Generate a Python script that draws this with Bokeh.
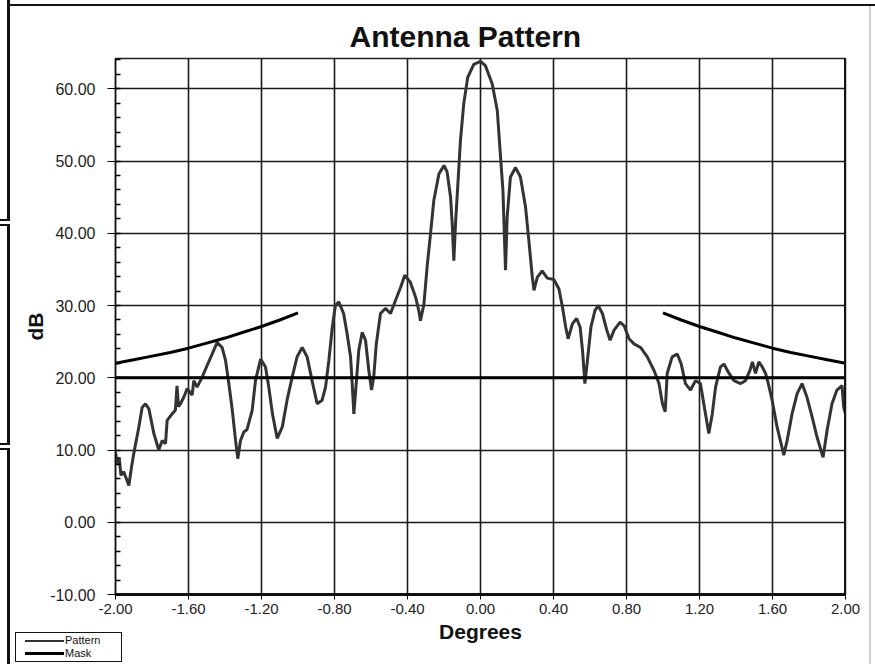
from bokeh.plotting import figure
from bokeh.layouts import column
from bokeh.models import (Range1d, FixedTicker, PrintfTickFormatter, Span, Div,
                          ColumnDataSource)
from bokeh.embed import file_html
from bokeh.resources import INLINE

# ---------------- data ----------------
pattern_angle = [
    -2.000, -1.990, -1.980, -1.970, -1.955, -1.940, -1.927, -1.910, -1.900, -1.872,
    -1.854, -1.836, -1.817, -1.790, -1.763, -1.744, -1.726, -1.717, -1.690, -1.672,
    -1.663, -1.655, -1.644, -1.626, -1.607, -1.580, -1.571, -1.553, -1.525, -1.498,
    -1.470, -1.443, -1.416, -1.397, -1.379, -1.360, -1.342, -1.330, -1.315, -1.297,
    -1.280, -1.251, -1.233, -1.205, -1.178, -1.160, -1.140, -1.114, -1.086, -1.060,
    -1.032, -1.005, -0.977, -0.950, -0.923, -0.895, -0.868, -0.849, -0.831, -0.812,
    -0.795, -0.777, -0.750, -0.731, -0.712, -0.703, -0.694, -0.681, -0.667, -0.648,
    -0.630, -0.612, -0.597, -0.585, -0.571, -0.548, -0.521, -0.493, -0.466, -0.438,
    -0.415, -0.384, -0.356, -0.338, -0.329, -0.310, -0.292, -0.274, -0.256, -0.228,
    -0.200, -0.183, -0.164, -0.155, -0.146, -0.137, -0.124, -0.110, -0.092, -0.070,
    -0.037, 0.000, 0.027, 0.064, 0.092, 0.110, 0.123, 0.137, 0.146, 0.164,
    0.192, 0.219, 0.247, 0.265, 0.284, 0.293, 0.311, 0.338, 0.366, 0.402,
    0.430, 0.449, 0.467, 0.480, 0.504, 0.527, 0.546, 0.559, 0.572, 0.586,
    0.605, 0.627, 0.645, 0.668, 0.692, 0.710, 0.732, 0.765, 0.787, 0.814,
    0.841, 0.877, 0.914, 0.951, 0.978, 0.997, 1.012, 1.023, 1.050, 1.078,
    1.100, 1.123, 1.151, 1.178, 1.205, 1.227, 1.251, 1.270, 1.288, 1.315,
    1.334, 1.362, 1.389, 1.425, 1.452, 1.476, 1.490, 1.507, 1.525, 1.544,
    1.562, 1.575, 1.598, 1.625, 1.647, 1.662, 1.680, 1.707, 1.735, 1.762,
    1.789, 1.817, 1.844, 1.877, 1.899, 1.926, 1.953, 1.981, 1.990, 2.000,
]
pattern_db = [
    9.7, 8.0, 9.0, 6.5, 7.0, 6.0, 5.1, 8.0, 9.5, 13.2,
    15.9, 16.4, 15.7, 12.3, 10.0, 11.3, 10.9, 14.1, 15.0, 15.5,
    18.9, 16.0, 16.4, 17.3, 18.5, 17.6, 19.6, 18.7, 20.1, 21.7,
    23.3, 24.9, 24.2, 22.4, 19.2, 15.5, 11.3, 8.8, 11.3, 12.5,
    12.8, 15.5, 19.6, 22.6, 21.5, 18.7, 15.0, 11.6, 13.2, 16.9,
    20.1, 22.9, 24.2, 22.9, 19.6, 16.4, 16.9, 18.7, 22.4, 27.0,
    30.0, 30.5, 28.9, 26.1, 22.9, 19.2, 15.0, 19.2, 23.8, 26.3,
    25.2, 21.0, 18.3, 20.1, 24.7, 28.9, 29.6, 28.9, 30.7, 32.5,
    34.2, 33.2, 31.2, 29.3, 27.9, 30.2, 35.5, 39.9, 44.5, 48.2,
    49.4, 48.5, 45.0, 41.3, 36.2, 41.3, 46.8, 52.8, 57.9, 61.6,
    63.4, 63.8, 63.2, 60.7, 57.0, 50.5, 45.9, 34.9, 42.2, 47.8,
    49.1, 47.8, 43.6, 39.0, 33.9, 32.1, 33.9, 34.8, 33.8, 33.6,
    32.3, 29.8, 27.0, 25.4, 27.5, 28.2, 27.0, 23.8, 19.2, 22.4,
    27.0, 29.3, 30.0, 28.9, 26.6, 25.2, 26.6, 27.7, 27.2, 25.4,
    24.7, 24.2, 22.9, 21.0, 19.2, 16.4, 15.3, 20.6, 22.9, 23.3,
    21.9, 19.2, 18.3, 19.6, 19.2, 15.9, 12.3, 15.0, 18.7, 21.5,
    21.9, 20.6, 19.6, 19.2, 19.6, 21.0, 22.2, 20.6, 22.2, 21.5,
    20.6, 19.4, 16.9, 13.2, 10.9, 9.3, 11.3, 15.0, 17.8, 19.2,
    17.3, 14.6, 11.8, 9.0, 12.7, 16.4, 18.3, 18.9, 15.9, 15.0,
]

mask_left_angle = [-2.0, -1.9, -1.8, -1.7, -1.6, -1.5, -1.4, -1.3, -1.2, -1.1, -1.0]
mask_left_db = [22.0, 22.5, 23.0, 23.5, 24.1, 24.8, 25.5, 26.3, 27.1, 28.0, 29.0]
mask_right_angle = [1.0, 1.1, 1.2, 1.3, 1.4, 1.5, 1.6, 1.7, 1.8, 1.9, 2.0]
mask_right_db = [29.0, 28.0, 27.1, 26.3, 25.5, 24.8, 24.1, 23.5, 23.0, 22.5, 22.0]
mask_floor_angle = [-2.0, 2.0]
mask_floor_db = [20.0, 20.0]

x_ticks = [-2.0, -1.6, -1.2, -0.8, -0.4, 0.0, 0.4, 0.8, 1.2, 1.6, 2.0]
y_ticks = [-10, 0, 10, 20, 30, 40, 50, 60]
y_minor_ticks = [v for v in range(-10, 65, 2)]
legend_labels = ["Pattern", "Mask"]

FONT = "Liberation Sans"

# frame of the surrounding sheet, drawn as CSS background of the figure element
sheet_lines = [  # (left, top, width, height, colour) in page pixels
    (7, 4, 868, 2, "#111111"),
    (7, 0, 3, 219, "#111111"),
    (7, 226, 3, 217, "#111111"),
    (7, 450, 3, 214, "#111111"),
    (0, 219, 10, 2, "#111111"),
    (0, 224, 10, 2, "#111111"),
    (0, 443, 10, 2, "#111111"),
    (0, 448, 10, 2, "#111111"),
    (869, 6, 2, 658, "#d0d0d0"),
]
css = {
    "background-color": "white",
    "background-image": ", ".join(f"linear-gradient({c}, {c})" for *_, c in sheet_lines),
    "background-position": ", ".join(f"{l}px {t}px" for l, t, *_ in sheet_lines),
    "background-size": ", ".join(f"{w}px {h}px" for _, _, w, h, _ in sheet_lines),
    "background-repeat": "no-repeat",
}

PATTERN_COLOR, PATTERN_WIDTH = "#333333", 3
MASK_COLOR, MASK_WIDTH = "#000000", 3

# ---------------- main figure ----------------
p = figure(width=875, height=664, output_backend="svg", toolbar_location=None,
           x_range=Range1d(-2.0, 2.0), y_range=Range1d(-10.0, 64.2),
           min_border_left=115, min_border_right=30, min_border_top=58,
           min_border_bottom=70, background_fill_color="white",
           border_fill_color=None, styles=css)

p.title.text = "Antenna Pattern"
p.title.text_font = FONT
p.title.text_font_style = "bold"
p.title.text_font_size = "30px"
p.title.align = "left"
p.title.offset = 234
p.title.standoff = 11
p.title.text_color = "#111111"

p.outline_line_color = "#222222"
p.outline_line_width = 1.5

xa = p.xaxis[0]
xa.ticker = FixedTicker(ticks=x_ticks)
xa.formatter = PrintfTickFormatter(format="%.2f")
xa.axis_line_width = 3
xa.axis_line_color = "#111111"
xa.major_tick_out = 5
xa.major_tick_in = 0
xa.minor_tick_out = 0
xa.minor_tick_in = 0
xa.major_label_text_font = FONT
xa.major_label_text_font_size = "15px"
xa.major_label_text_color = "#222222"
xa.major_label_standoff = 4
xa.axis_label = "Degrees"
xa.axis_label_text_font = FONT
xa.axis_label_text_font_style = "bold"
xa.axis_label_text_font_size = "21px"
xa.axis_label_text_color = "#111111"
xa.axis_label_standoff = 3

ya = p.yaxis[0]
ya.ticker = FixedTicker(ticks=y_ticks, minor_ticks=y_minor_ticks)
ya.formatter = PrintfTickFormatter(format="%.2f")
ya.axis_line_width = 1.5
ya.axis_line_color = "#111111"
ya.major_tick_out = 8
ya.major_tick_in = 0
ya.minor_tick_out = 0
ya.minor_tick_in = 5
ya.minor_tick_line_width = 1.5
ya.major_label_text_font = FONT
ya.major_label_text_font_size = "16px"
ya.major_label_text_color = "#222222"
ya.major_label_standoff = 12
ya.axis_label = "dB"
ya.axis_label_text_font = FONT
ya.axis_label_text_font_style = "bold"
ya.axis_label_text_font_size = "21px"
ya.axis_label_text_color = "#111111"
ya.axis_label_standoff = 0

p.xgrid.ticker = FixedTicker(ticks=x_ticks)
p.ygrid.ticker = FixedTicker(ticks=y_ticks)
for g in (p.xgrid[0], p.ygrid[0]):
    g.grid_line_color = "#1a1a1a"
    g.grid_line_width = 1.6

p.add_layout(Span(location=2.0, dimension="height", line_color="#111111", line_width=3))

src = ColumnDataSource(dict(x=pattern_angle, y=pattern_db))
mask_src = ColumnDataSource(dict(xs=[mask_left_angle, mask_right_angle, mask_floor_angle],
                                 ys=[mask_left_db, mask_right_db, mask_floor_db]))
p.line("x", "y", source=src, line_color=PATTERN_COLOR, line_width=PATTERN_WIDTH,
       legend_label=legend_labels[0])
p.multi_line("xs", "ys", source=mask_src, line_color=MASK_COLOR, line_width=MASK_WIDTH,
             legend_label=legend_labels[1])
# the in-plot legend is hidden; the boxed key sits outside the plot area (below-left),
# where Bokeh clips annotations, so it is drawn as an HTML element overlapping the corner
p.legend.visible = False

key_html = f"""
<div style="position:relative; z-index:5; box-sizing:border-box; width:107px; height:30px;
            margin-top:1px; border:1.5px solid #111; background:#ffffff;
            font-family:'{FONT}'; font-size:11px; line-height:11px; color:#111;">
  <div style="position:absolute; left:9px; top:7px; width:39px; height:0;
              border-top:2px solid {PATTERN_COLOR};"></div>
  <span style="position:absolute; left:49px; top:2px;">{legend_labels[0]}</span>
  <div style="position:absolute; left:9px; top:19px; width:39px; height:0;
              border-top:3px solid {MASK_COLOR};"></div>
  <span style="position:absolute; left:49px; top:15px;">{legend_labels[1]}</span>
</div>
"""
key = Div(text=key_html, width=110, height=33, margin=(-33, 0, 0, 15),
          styles={"position": "relative", "z-index": "5"})

layout = column(p, key, spacing=0)
open("out.html", "w").write(file_html(layout, INLINE))
